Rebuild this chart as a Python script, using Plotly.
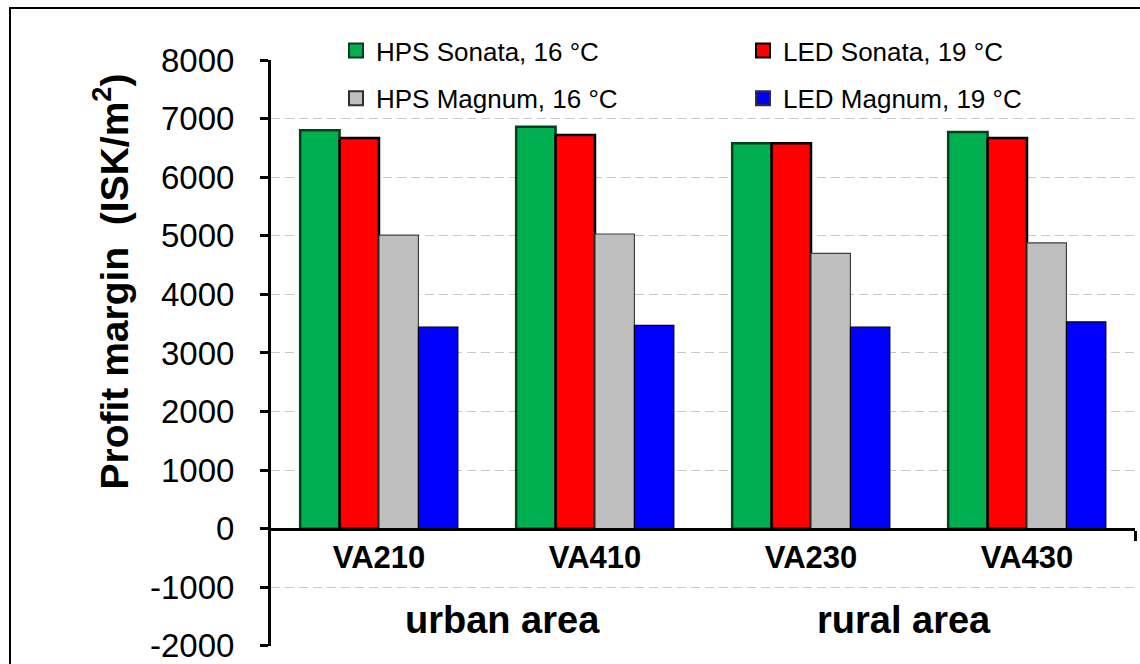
import plotly.graph_objects as go

# Greenhouse variants and their area group
varieties = ["VA210", "VA410", "VA230", "VA430"]
areas = ["urban area", "rural area"]

# Profit margin per variant (ISK/m2)
hps_sonata = [6800, 6860, 6580, 6770]
led_sonata = [6670, 6720, 6580, 6670]
hps_magnum = [5010, 5030, 4700, 4880]
led_magnum = [3440, 3470, 3440, 3530]

y_ticks = [-2000, -1000, 0, 1000, 2000, 3000, 4000, 5000, 6000, 7000, 8000]
y_tick_text = [str(v) for v in y_ticks]

FONT = "Arial, Liberation Sans, sans-serif"
W, H = 1140, 664
L, R, T, B = 271, 5, 60, 18
pw, ph = W - L - R, H - T - B


def px_x(p):
    return (p - L) / pw


def px_y(p):
    return (H - B - p) / ph


series = [
    ("HPS Sonata, 16 °C", hps_sonata, "#00B050", "#0b3d1e", 2.5, "legend"),
    ("LED Sonata, 19 °C", led_sonata, "#FF0000", "#000000", 2.5, "legend2"),
    ("HPS Magnum, 16 °C", hps_magnum, "#BFBFBF", "#404040", 1.2, "legend"),
    ("LED Magnum, 19 °C", led_magnum, "#0000FF", "#000000", 1.2, "legend2"),
]

xpos = list(range(len(varieties)))

fig = go.Figure()
for name, vals, fill, edge, lw, lg in series:
    fig.add_trace(go.Bar(
        x=xpos, y=vals, name=name, showlegend=False,
        marker=dict(color=fill, line=dict(color=edge, width=lw)),
    ))

# legend keys: square swatches, two columns of two
for name, vals, fill, edge, lw, lg in series:
    fig.add_trace(go.Scatter(
        x=[None], y=[None], mode="markers", name=name,
        marker=dict(symbol="square", size=14, color=fill,
                    line=dict(color=edge if lw > 2 else "#303030", width=2)),
        legend=lg, legendgroup=name, showlegend=True, hoverinfo="skip",
    ))

legend_style = dict(
    xanchor="left", yanchor="top", bgcolor="rgba(0,0,0,0)",
    font=dict(size=26, family=FONT, color="black"),
    tracegroupgap=11, traceorder="grouped", itemsizing="trace",
)

fig.update_layout(
    width=W, height=H,
    margin=dict(l=L, r=R, t=T, b=B, autoexpand=False),
    paper_bgcolor="white", plot_bgcolor="white",
    barmode="group", bargap=0.27, bargroupgap=0,
    font=dict(family=FONT, color="black"),
    showlegend=True,
    legend=dict(x=px_x(336), y=px_y(27), **legend_style),
    legend2=dict(x=px_x(743), y=px_y(27), **legend_style),
    xaxis=dict(
        range=[-0.5, 3.5],
        tickvals=xpos, ticktext=varieties,
        tickfont=dict(size=31, family=FONT, color="black", weight="bold"),
        anchor="free", position=0.2, automargin=False,
        showline=True, linecolor="black", linewidth=3,
        showgrid=False, zeroline=False, ticks="",
        ticklabelstandoff=0,
        minor=dict(tickvals=[3.5], ticks="outside", ticklen=10,
                   tickwidth=3, tickcolor="black"),
    ),
    yaxis=dict(
        range=[-2002, 8000], tickvals=y_ticks, ticktext=y_tick_text,
        tickfont=dict(size=33, family=FONT, color="black"),
        showline=True, linecolor="black", linewidth=3,
        ticks="outside", ticklen=8, tickwidth=3, tickcolor="black",
        showgrid=True, gridcolor="#C8C8C8", gridwidth=1.3, griddash="9px,5px",
        zeroline=False, ticklabelstandoff=19, ticklabeloverflow="allow",
        automargin=False,
    ),
)

# y-axis title
fig.add_annotation(
    text="Profit margin  (ISK/m<sup>2</sup>)", textangle=-90,
    xref="paper", yref="paper", x=px_x(84), y=px_y(282),
    showarrow=False, font=dict(size=39, family=FONT, color="black", weight="bold"),
)

# area group labels under the variants
for label, xc in zip(areas, [0.57, 2.43]):
    fig.add_annotation(
        text=label, xref="x", yref="y", x=xc, y=-1560,
        showarrow=False, font=dict(size=38, family=FONT, color="black", weight="bold"),
    )

# chart frame
fig.add_shape(type="rect", xref="paper", yref="paper",
              x0=px_x(10), x1=px_x(1170), y0=px_y(690), y1=px_y(8),
              line=dict(color="black", width=2), fillcolor="rgba(0,0,0,0)", layer="below")

fig.write_html("out.html")
